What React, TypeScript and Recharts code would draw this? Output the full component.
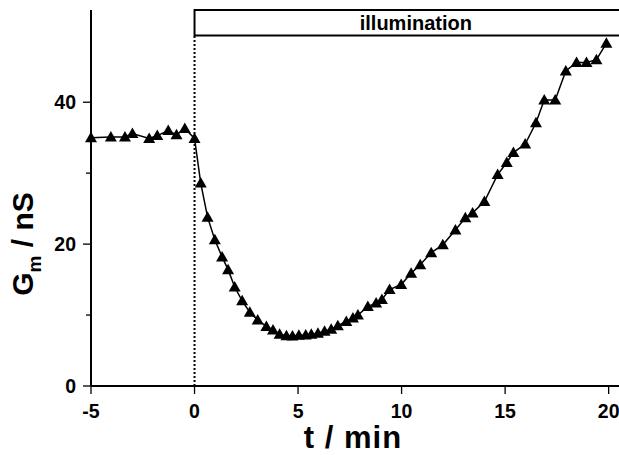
import {
  LineChart,
  Line,
  XAxis,
  YAxis,
  ReferenceLine,
  ReferenceArea,
} from "recharts";

const times = [
  -5, -4.04, -3.36, -3.0, -2.19, -1.8, -1.27, -0.87, -0.47, 0,
  0.3, 0.63, 0.98, 1.33, 1.62, 1.94, 2.3, 2.67, 3.05, 3.47,
  3.79, 4.11, 4.44, 4.73, 5.04, 5.37, 5.64, 5.96, 6.28, 6.6,
  6.92, 7.33, 7.65, 7.89, 8.37, 8.77, 9.05, 9.42, 9.98, 10.46,
  10.9, 11.43, 11.99, 12.6, 13.08, 13.43, 14.0, 14.64, 15.08, 15.4,
  15.97, 16.49, 16.89, 17.42, 17.93, 18.45, 18.93, 19.41, 19.89,
];

const conductance = [
  35.0, 35.1, 35.1, 35.6, 34.9, 35.3, 36.0, 35.4, 36.3, 34.9,
  28.6, 23.8, 20.6, 18.2, 16.4, 13.95, 12.0, 10.4, 9.3, 8.4,
  7.9, 7.3, 7.1, 7.05, 7.15, 7.2, 7.3, 7.45, 7.7, 8.0,
  8.5, 9.1, 9.6, 10.0, 11.2, 11.7, 12.2, 13.6, 14.3, 15.9,
  17.1, 18.8, 19.9, 22.0, 23.7, 24.4, 26.0, 29.8, 31.5, 32.9,
  34.1, 37.1, 40.3, 40.3, 44.4, 45.6, 45.6, 46.0, 48.3,
];

const xTicks = [-5, 0, 5, 10, 15, 20];
const yTicks = [0, 10, 20, 30, 40];
const yLabelled = [0, 20, 40];

const data = times.map((t, i) => ({ t, g: conductance[i] }));

const FONT = "'Liberation Sans', Arial, sans-serif";

function Triangle(props: any) {
  const { cx, cy } = props;
  if (cx == null || cy == null) return null;
  return (
    <path
      d={`M${cx},${cy - 6} L${cx - 6},${cy + 4.5} L${cx + 6},${cy + 4.5} Z`}
      fill="#000"
    />
  );
}

function YTick(props: any) {
  const { x, y, payload } = props;
  const major = yLabelled.includes(payload.value);
  return (
    <g>
      <line x1={x - (major ? 8 : 5)} x2={x} y1={y} y2={y} stroke="#000" strokeWidth={1.3} />
      {major && (
        <text
          x={x - 15}
          y={y + 7}
          textAnchor="end"
          fontFamily={FONT}
          fontWeight="bold"
          fontSize={19.5}
          fill="#000"
        >
          {payload.value}
        </text>
      )}
    </g>
  );
}

function XTick(props: any) {
  const { x, y, payload } = props;
  return (
    <g>
      <line x1={x} x2={x} y1={y} y2={y + 8} stroke="#000" strokeWidth={1.3} />
      <text
        x={x}
        y={y + 32}
        textAnchor="middle"
        fontFamily={FONT}
        fontWeight="bold"
        fontSize={19.5}
        fill="#000"
      >
        {payload.value}
      </text>
    </g>
  );
}

function XTitle() {
  return (
    <text
      x={353}
      y={448}
      textAnchor="middle"
      fontFamily={FONT}
      fontWeight="bold"
      fontSize={31}
      letterSpacing={1}
      fill="#000"
    >
      t / min
    </text>
  );
}

export default function App() {
  return (
    <div style={{ position: "absolute", left: 0, top: 0, background: "#fff" }}>
      <LineChart
        width={619}
        height={455}
        data={data}
        margin={{ top: 10, right: 0, bottom: 0, left: 0 }}
      >
        <XAxis
          dataKey="t"
          type="number"
          domain={[-5, 20.5]}
          ticks={xTicks}
          height={69}
          tickSize={0}
          tickMargin={0}
          tick={<XTick />}
          axisLine={{ stroke: "#000", strokeWidth: 2 }}
          tickLine={false}
          label={<XTitle />}
        />
        <YAxis
          type="number"
          domain={[0, 53]}
          ticks={yTicks}
          width={91}
          tickSize={0}
          tickMargin={0}
          tick={<YTick />}
          axisLine={{ stroke: "#000", strokeWidth: 2 }}
          tickLine={false}
          label={(p: any) => {
            const vb = p.viewBox;
            const cx = 33;
            const cy = vb.y + vb.height / 2 + 46;
            return (
              <text
                transform={`translate(${cx},${cy}) rotate(-90)`}
                textAnchor="middle"
                fontFamily={FONT}
                fontWeight="bold"
                fontSize={30}
                fill="#000"
              >
                G
                <tspan fontSize={19} dy={8}>m</tspan>
                <tspan dy={-8}>{"  / nS"}</tspan>
              </text>
            );
          }}
        />
        <ReferenceLine
          segment={[
            { x: 0, y: 0 },
            { x: 0, y: 49.4 },
          ]}
          stroke="#000"
          strokeWidth={2}
          strokeDasharray="2 2"
        />
        <ReferenceArea
          x1={0}
          x2={20.7}
          y1={49.4}
          y2={53}
          fill="#fff"
          fillOpacity={1}
          stroke="#000"
          strokeWidth={2}
          ifOverflow="visible"
          label={{
            value: "illumination",
            position: "center",
            fontFamily: FONT,
            fontWeight: "bold",
            fontSize: 20,
            fill: "#000",
            dx: 7,
          }}
        />
        <Line
          dataKey="g"
          type="linear"
          stroke="#000"
          strokeWidth={1.5}
          dot={<Triangle />}
          activeDot={false}
          isAnimationActive={false}
        />
      </LineChart>
    </div>
  );
}
